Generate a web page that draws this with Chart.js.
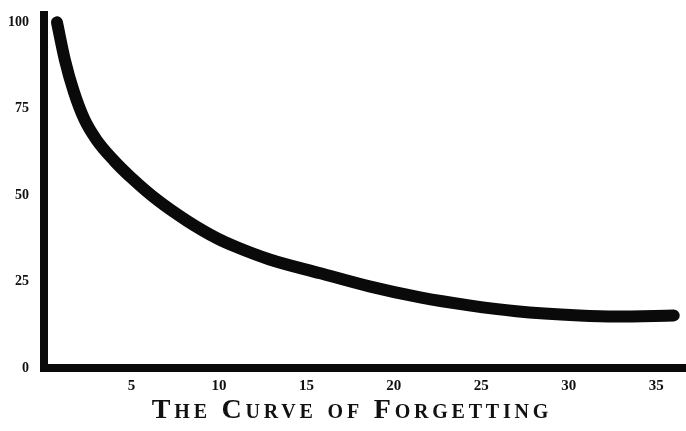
<!DOCTYPE html>
<html>
<head>
    <title>The Curve of Forgetting</title>
    <script src="https://cdn.jsdelivr.net/npm/chart.js@4.4.1/dist/chart.umd.min.js"></script>
    <style>
        * {
            margin: 0;
            padding: 0;
            box-sizing: border-box;
        }

        body {
            background: #fff;
            width: 686px;
            height: 431px;
            overflow: hidden;
            position: relative;
        }

        .chart-box {
            position: absolute;
            left: 0;
            top: 0;
            width: 686px;
            height: 395px;
        }

        .caption {
            position: absolute;
            left: 0;
            top: 393px;
            width: 704px;
            text-align: center;
            font-family: "Liberation Serif", "DejaVu Serif", serif;
            font-weight: bold;
            font-variant: small-caps;
            font-size: 28px;
            letter-spacing: 3.8px;
            color: #111;
        }
    </style>
</head>
<body>
    <div class="chart-box">
        <canvas id="forgetChart"></canvas>
    </div>
    <div class="caption">The Curve of Forgetting</div>

    <script>
        // values
        const days = [0.74, 1.2, 1.7, 2.3, 3.0, 4.0, 5.0, 6.5, 8.2, 9.9, 11.0, 12.9, 15.8, 18.6, 21.5, 24.3, 27.0, 30.6, 32.7, 36.0];
        const retained = [100, 89, 80, 72, 66, 60, 55, 48.5, 42.5, 37.5, 35, 31.4, 27.4, 23.6, 20.4, 18.1, 16.4, 15.2, 14.9, 15.2];
        const xTicks = [5, 10, 15, 20, 25, 30, 35];
        const yTicks = [0, 25, 50, 75, 100];

        const points = days.map((d, i) => ({ x: d, y: retained[i] }));

        const ctx = document.getElementById('forgetChart').getContext('2d');
        new Chart(ctx, {
            type: 'scatter',
            data: {
                datasets: [{
                    data: points,
                    showLine: true,
                    borderColor: '#0a0a0a',
                    borderWidth: 12,
                    borderCapStyle: 'round',
                    borderJoinStyle: 'round',
                    cubicInterpolationMode: 'monotone',
                    pointRadius: 0,
                    pointHoverRadius: 0
                }]
            },
            options: {
                responsive: true,
                maintainAspectRatio: false,
                animation: false,
                layout: {
                    padding: { top: 0, right: 0, bottom: 0, left: 0 }
                },
                plugins: {
                    legend: { display: false },
                    tooltip: { enabled: false }
                },
                scales: {
                    x: {
                        type: 'linear',
                        min: 0,
                        max: 36.7,
                        grid: { display: false },
                        border: { display: true, color: '#0a0a0a', width: 8 },
                        afterBuildTicks: (scale) => {
                            scale.ticks = xTicks.map(v => ({ value: v }));
                        },
                        afterFit: (scale) => {
                            scale.height = 27;
                        },
                        ticks: {
                            padding: 1,
                            maxRotation: 0,
                            autoSkip: false,
                            color: '#111',
                            font: { family: '"Liberation Serif", serif', size: 15, weight: 'bold' }
                        }
                    },
                    y: {
                        min: 0,
                        max: 102,
                        grid: { display: false },
                        border: { display: true, color: '#0a0a0a', width: 8 },
                        afterBuildTicks: (scale) => {
                            scale.ticks = yTicks.map(v => ({ value: v }));
                        },
                        afterFit: (scale) => {
                            scale.width = 44;
                        },
                        ticks: {
                            padding: 7,
                            autoSkip: false,
                            color: '#111',
                            font: { family: '"Liberation Serif", serif', size: 14, weight: 'bold' }
                        }
                    }
                }
            }
        });
    </script>
</body>
</html>
